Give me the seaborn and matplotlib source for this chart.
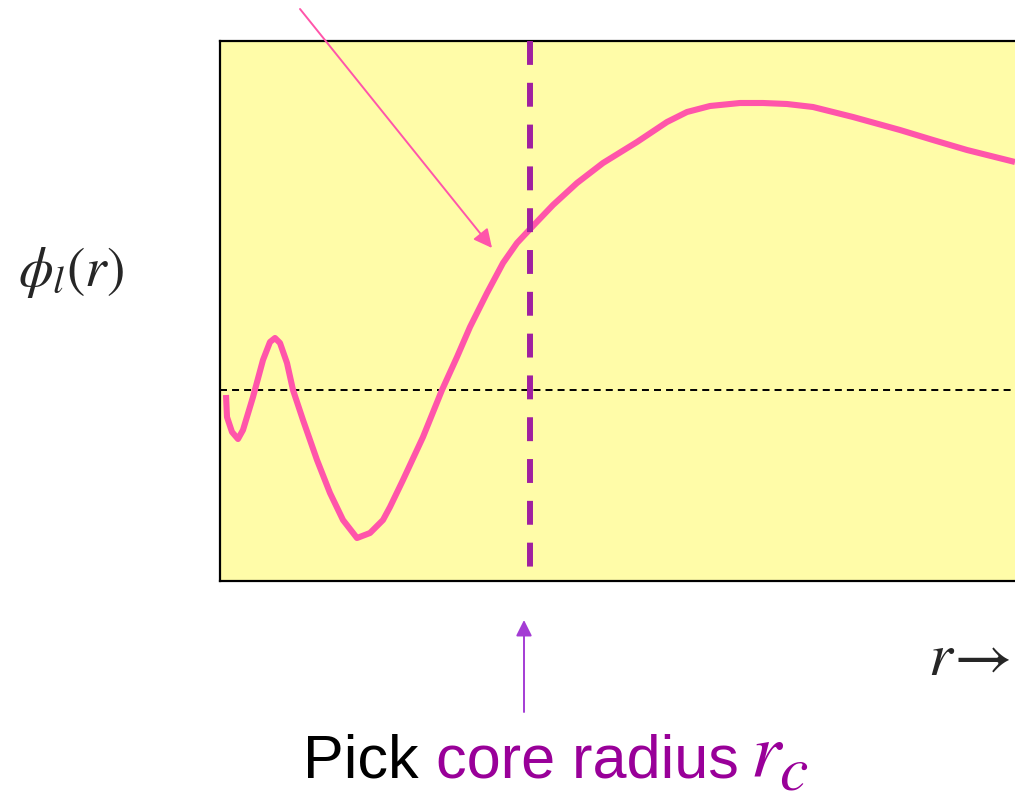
import numpy as np
import pandas as pd
import matplotlib
matplotlib.use("Agg")
import matplotlib.pyplot as plt
import seaborn as sns

# radial coordinate r and wavefunction phi_l(r)
r_vals = [0.06, 0.07, 0.12, 0.18, 0.23, 0.33, 0.43, 0.50, 0.55, 0.60, 0.67, 0.73,
          0.83, 0.97, 1.10, 1.23, 1.37, 1.50, 1.63, 1.70, 1.83, 2.03, 2.22, 2.37,
          2.50, 2.67, 2.83, 2.97, 3.12, 3.33, 3.57, 3.83, 4.17, 4.47, 4.67, 4.90,
          5.20, 5.43, 5.67, 5.93, 6.33, 6.80, 7.13, 7.47, 7.95]
phi_vals = [-0.05, -0.27, -0.42, -0.49, -0.40, -0.07, 0.30, 0.48, 0.52, 0.47, 0.27, 0.00,
            -0.30, -0.70, -1.03, -1.30, -1.48, -1.43, -1.30, -1.17, -0.90, -0.47, 0.00, 0.33,
            0.63, 0.97, 1.27, 1.47, 1.63, 1.85, 2.07, 2.27, 2.48, 2.68, 2.78, 2.84,
            2.87, 2.87, 2.86, 2.83, 2.73, 2.60, 2.50, 2.40, 2.28]
r_core = 3.10
r_max = 8.25
phi_lim = (-1.91, 3.49)

df = pd.DataFrame({"r": r_vals, "phi": phi_vals})

sns.set_style("white")
plt.rcParams["font.family"] = ["Liberation Sans", "DejaVu Sans"]
plt.rcParams["mathtext.fontset"] = "stix"

W, H = 1015, 792
fig = plt.figure(figsize=(W / 100, H / 100), dpi=100)
ax = fig.add_axes([220 / W, (H - 581) / H, (1045 - 220) / W, (581 - 41) / H])
ax.set_facecolor("#fffca8")
for s in ax.spines.values():
    s.set_color("black")
    s.set_linewidth(1.6)

ax.axhline(0, color="black", lw=1.4, dashes=(3.6, 2.6), zorder=2)
sns.lineplot(data=df, x="r", y="phi", ax=ax, color="#ff55aa", lw=4.4,
             estimator=None, sort=False, solid_capstyle="butt",
             solid_joinstyle="round", zorder=3)
ax.plot([r_core, r_core], [phi_lim[1], -1.78], color="#a020a0", lw=4.3,
        dashes=(4, 3), solid_capstyle="butt", zorder=4)

ax.set_xlim(0, r_max)
ax.set_ylim(*phi_lim)
ax.set_xticks([])
ax.set_yticks([])
ax.set_xlabel("")
ax.set_ylabel("")

# pointer to the curve
ax.annotate("", xy=(2.72, 1.42), xytext=(0.80, 3.81),
            arrowprops=dict(arrowstyle="-|>", color="#ff55aa", lw=1.4,
                            mutation_scale=28, shrinkA=0, shrinkB=0),
            annotation_clip=False)
# pointer to the core radius
ax.annotate("", xy=(3.04, -2.30), xytext=(3.04, -3.22),
            arrowprops=dict(arrowstyle="-|>", color="#a43cd4", lw=1.4,
                            mutation_scale=24, shrinkA=0, shrinkB=0),
            annotation_clip=False)

fig.text(18 / W, 1 - 272 / H, r"$\phi_l(r)$", fontsize=40, ha="left", va="center")
fig.text(928 / W, 1 - 675 / H, r"$r$", fontsize=44, ha="left", va="baseline")
fig.text(944 / W, 1 - 675 / H, r"$\rightarrow$", fontsize=46, ha="left", va="baseline")

t1 = fig.text(303 / W, 1 - 777 / H, "Pick", fontsize=44, color="black",
              ha="left", va="baseline")
fig.canvas.draw()
bb = t1.get_window_extent()
t2 = fig.text(bb.x1 / W, 1 - 777 / H, " core radius", fontsize=44, color="#990099",
              ha="left", va="baseline")
fig.canvas.draw()
bb = t2.get_window_extent()
t3 = fig.text(bb.x1 / W + 12 / W, 1 - 777 / H, r"$r$", fontsize=56, color="#990099",
              ha="left", va="baseline")
fig.canvas.draw()
bb = t3.get_window_extent()
fig.text(bb.x1 / W - 6 / W, 1 - 789 / H, r"$c$", fontsize=46, color="#990099",
         ha="left", va="baseline")

fig.savefig("out.png", dpi=100)
